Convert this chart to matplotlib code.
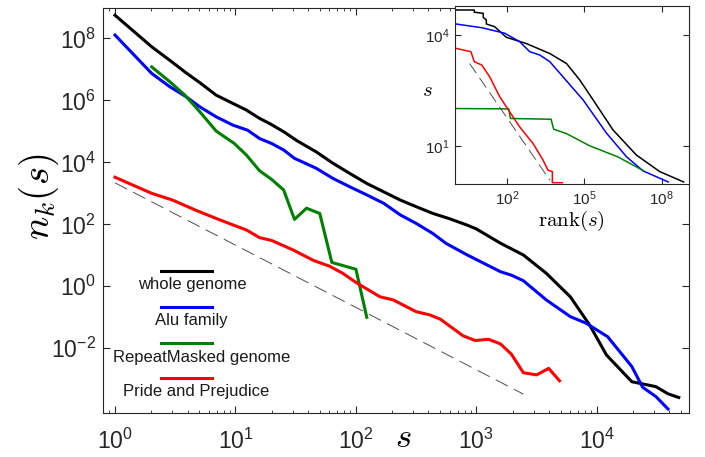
import numpy as np
import matplotlib
matplotlib.use('Agg')
import matplotlib.pyplot as plt
from matplotlib.ticker import LogLocator, NullFormatter, NullLocator

plt.rcParams['font.family'] = ['Liberation Sans', 'DejaVu Sans']
plt.rcParams['mathtext.fontset'] = 'cm'

## Data as log10 values
# main panel: log10(s), log10(n_k(s))
black_ls = [0, 0.305, 0.47, 0.58, 0.705, 0.84, 0.98, 1.09, 1.20, 1.29, 1.40, 1.51, 1.67,
            1.81, 1.95, 2.09, 2.23, 2.37, 2.50, 2.64, 2.77, 2.92, 3.00, 3.20, 3.39, 3.58,
            3.78, 3.94, 4.08, 4.29, 4.49, 4.59, 4.68]
black_ln = [8.75, 7.73, 7.25, 6.92, 6.57, 6.17, 5.90, 5.69, 5.42, 5.24, 4.99, 4.70, 4.34,
            3.97, 3.64, 3.32, 3.05, 2.78, 2.57, 2.35, 2.19, 1.98, 1.85, 1.39, 1.01, 0.42,
            -0.34, -1.25, -2.22, -3.08, -3.24, -3.47, -3.59]

blue_ls = [0, 0.305, 0.456, 0.59, 0.705, 0.84, 0.98, 1.10, 1.20, 1.30, 1.40, 1.49, 1.67,
           1.81, 1.95, 2.09, 2.23, 2.37, 2.50, 2.64, 2.75, 2.92, 3.20, 3.29, 3.39, 3.58,
           3.78, 3.91, 4.09, 4.29, 4.38, 4.49, 4.59]
blue_ln = [8.11, 6.87, 6.44, 6.12, 5.79, 5.47, 5.20, 5.04, 4.77, 4.61, 4.40, 4.13, 3.81,
           3.48, 3.21, 2.95, 2.68, 2.30, 2.03, 1.70, 1.38, 1.02, 0.47, 0.36, 0.18, -0.44,
           -0.98, -1.19, -1.63, -2.59, -3.26, -3.56, -3.96]

green_ls = [0.305, 0.456, 0.58, 0.705, 0.84, 0.99, 1.09, 1.20, 1.30, 1.40, 1.49, 1.59,
            1.70, 1.80, 2.00, 2.09]
green_ln = [7.08, 6.60, 6.17, 5.63, 5.01, 4.61, 4.24, 3.73, 3.45, 3.11, 2.16, 2.52,
            2.35, 0.77, 0.55, -1.0]

red_ls = [0, 0.305, 0.48, 0.68, 0.84, 0.98, 1.09, 1.20, 1.30, 1.48, 1.65, 1.78, 1.89,
          2.01, 2.20, 2.31, 2.50, 2.61, 2.70, 2.89, 2.99, 3.10, 3.20, 3.29, 3.39, 3.50,
          3.60, 3.69]
red_ln = [3.52, 3.0, 2.78, 2.44, 2.19, 1.98, 1.82, 1.57, 1.48, 1.17, 0.83, 0.65, 0.42,
          0.10, -0.34, -0.44, -0.82, -0.92, -1.06, -1.60, -1.75, -1.71, -1.86, -2.19,
          -2.79, -2.86, -2.65, -3.05]

guide_ls = [0, 3.39]
guide_ln = [3.34, -3.48]

# inset: log10(rank), log10(s)
i_black_lr = [0, 0.71, 0.71, 1.06, 1.06, 1.18, 1.18, 1.50, 1.96, 2.74, 3.65, 4.30, 4.82,
              5.34, 6.11, 7.02, 7.93, 8.86]
i_black_ls = [4.68, 4.68, 4.62, 4.59, 4.48, 4.41, 4.30, 4.23, 3.94, 3.77, 3.50, 3.23, 2.78,
              2.24, 1.43, 0.75, 0.30, 0.02]

i_blue_lr = [0, 1.0, 1.9, 2.48, 2.87, 3.26, 3.65, 4.95, 5.86, 6.64, 7.28, 8.26]
i_blue_ls = [4.30, 4.20, 4.05, 3.82, 3.55, 3.46, 3.28, 2.24, 1.34, 0.70, 0.32, 0.02]

i_green_lr = [0, 2.05, 2.12, 3.70, 3.80, 4.30, 5.20, 6.30, 7.28]
i_green_ls = [2.01, 2.00, 1.74, 1.72, 1.45, 1.33, 1.00, 0.70, 0.33]

i_red_lr = [0, 0.58, 0.71, 1.00, 1.31, 1.70, 2.09, 2.48, 3.00, 3.39, 3.58, 3.75, 3.75, 4.14]
i_red_ls = [3.64, 3.55, 3.28, 3.19, 2.87, 2.33, 1.92, 1.51, 1.06, 0.61, 0.34, 0.30, 0.0, 0.0]

i_guide_lr = [0.53, 3.65]
i_guide_ls = [3.23, 0.07]

labels = ['whole genome', 'Alu family', 'RepeatMasked genome', 'Pride and Prejudice']
colors = ['black', 'blue', (0, 0.5, 0), 'red']

## Figure
fig = plt.figure(figsize=(7.05, 4.57), dpi=100)
ax = fig.add_axes([0.146, 0.0963, 0.831, 0.886])

main = [(black_ls, black_ln), (blue_ls, blue_ln), (green_ls, green_ln), (red_ls, red_ln)]
for (ls, ln), c in zip(main, colors):
    ax.plot(10**np.array(ls), 10**np.array(ln), color=c, lw=2.2, solid_joinstyle='round')
ax.plot(10**np.array(guide_ls), 10**np.array(guide_ln), color=(0.3, 0.3, 0.3), lw=0.7,
        dashes=(14, 7))

ax.set_xscale('log')
ax.set_yscale('log')
ax.set_xlim(10**-0.1, 10**4.763)
ax.set_ylim(10**-4.09, 10**8.98)
ax.set_xticks([1, 10, 100, 1000, 10000])
ax.set_yticks([1e-2, 1, 1e2, 1e4, 1e6, 1e8])
ax.yaxis.set_minor_locator(NullLocator())
ax.xaxis.set_minor_locator(LogLocator(base=10, subs=np.arange(2, 10), numticks=20))
ax.xaxis.set_minor_formatter(NullFormatter())
ax.tick_params(which='both', direction='in', top=True, right=True, colors=(0.15, 0.15, 0.15),
               labelcolor=(0.15, 0.15, 0.15), labelsize=16.5)
ax.tick_params(which='major', length=5, width=0.8)
ax.tick_params(which='minor', length=2.5, width=0.6)
ax.tick_params(axis='x', pad=11)
ax.tick_params(axis='y', pad=5)
for sp in ax.spines.values():
    sp.set_color((0.15, 0.15, 0.15))
    sp.set_linewidth(0.8)

fig.text(39/705, 1 - 197/457, r'$n_k(s)$', fontsize=28, rotation=90, ha='center', va='center')
fig.text(403/705, 1 - 447/457, r'$s$', fontsize=25, ha='center', va='baseline')

# legend: line sample above each label
leg_line_y = [270.7, 306.7, 343, 378]
leg_text_y = [284, 320.7, 357.7, 391.7]
leg_text_x = [192, 191, 202, 196]
for lab, c, ly, ty, tx in zip(labels, colors, leg_line_y, leg_text_y, leg_text_x):
    fig.lines.append(plt.Line2D([161/705, 212/705], [1 - ly/457, 1 - ly/457], color=c, lw=2.2,
                                transform=fig.transFigure))
    fig.text(tx/705, 1 - ty/457, lab, fontsize=12, ha='center', va='center', color=(0.1, 0.1, 0.1))

## Inset
ins = fig.add_axes([0.645, 0.597, 0.332, 0.390])
inset = [(i_black_lr, i_black_ls), (i_blue_lr, i_blue_ls), (i_green_lr, i_green_ls),
         (i_red_lr, i_red_ls)]
for (lr, ls), c in zip(inset, colors):
    ins.plot(10**np.array(lr), 10**np.array(ls), color=c, lw=1.1)
ins.plot(10**np.array(i_guide_lr), 10**np.array(i_guide_ls), color=(0.3, 0.3, 0.3), lw=0.7,
         dashes=(12, 6))
ins.set_xscale('log')
ins.set_yscale('log')
ins.set_xlim(10**-0.05, 10**9.06)
ins.set_ylim(10**-0.04, 10**4.79)
ins.set_xticks([1e2, 1e5, 1e8])
ins.set_yticks([1e1, 1e4])
ins.xaxis.set_minor_locator(NullLocator())
ins.yaxis.set_minor_locator(NullLocator())
ins.tick_params(which='both', direction='in', top=True, right=True, colors=(0.15, 0.15, 0.15),
                labelcolor=(0.15, 0.15, 0.15), labelsize=11, length=4)
for sp in ins.spines.values():
    sp.set_color((0.15, 0.15, 0.15))
    sp.set_linewidth(0.8)
ins.set_xlabel(r'$\mathrm{rank}(s)$', fontsize=15, labelpad=1)
fig.text(427/705, 1 - 90/457, r'$s$', fontsize=15, ha='center', va='center')

fig.savefig('out.png', dpi=100)
